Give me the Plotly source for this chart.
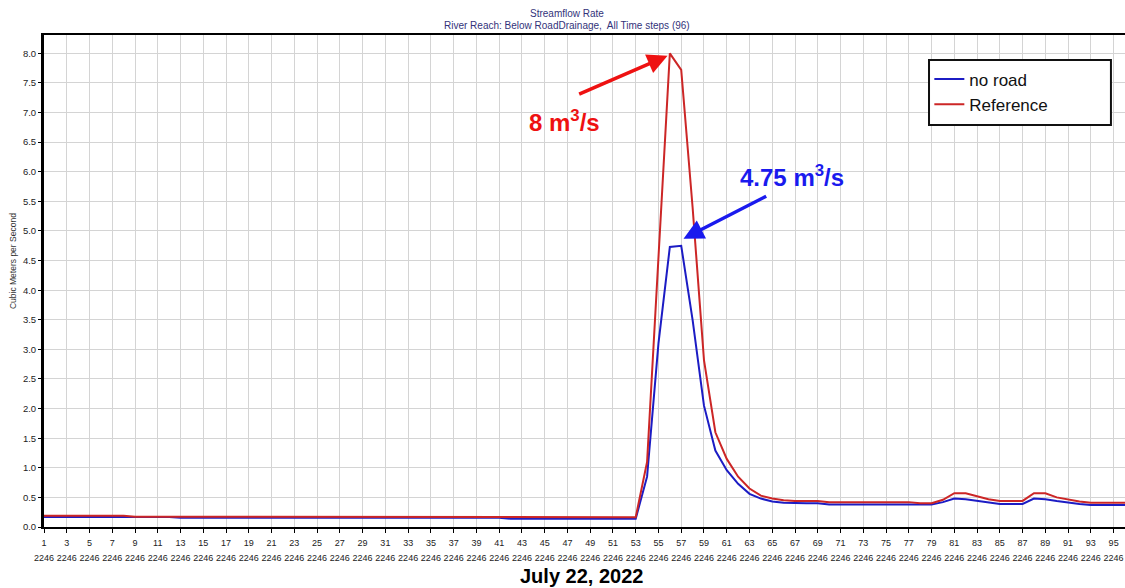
import plotly.graph_objects as go

# Time steps (96 of them) and their secondary tick label
time_steps = list(range(1, 97))
step_code = "2246"

# Streamflow (m³/s) per time step
no_road = (
    [0.17] * 12 + [0.155] * 29 + [0.14] * 12
    + [0.85, 3.1, 4.73, 4.75, 3.5, 2.05, 1.29, 0.96, 0.73, 0.56, 0.48, 0.43, 0.41,
       0.40, 0.40, 0.40]
    + [0.38] * 10
    + [0.42, 0.48, 0.47, 0.44, 0.41, 0.39, 0.39, 0.39, 0.48, 0.47, 0.44, 0.41, 0.39,
       0.37, 0.37, 0.37, 0.37]
)
reference = (
    [0.19] * 8 + [0.175] * 24 + [0.165] * 21
    + [1.1, 4.5, 8.0, 7.72, 5.4, 2.82, 1.6, 1.15, 0.85, 0.65, 0.53, 0.48, 0.45,
       0.44, 0.44, 0.44]
    + [0.42] * 8 + [0.40] * 2
    + [0.46, 0.57, 0.57, 0.52, 0.47, 0.44, 0.44, 0.44, 0.57, 0.57, 0.50, 0.46, 0.43,
       0.41, 0.41, 0.41, 0.41]
)

tick_vals = list(range(1, 97, 2))
SMALL = "<span style='font-size:9px'>{}</span>"
tick_text = [SMALL.format(t) + "<br>" + SMALL.format(step_code) for t in tick_vals]
y_ticks = [i * 0.5 for i in range(17)]

BLUE = "#1c1cc4"
RED = "#cc2626"
SANS = "Liberation Sans, Arial, sans-serif"

fig = go.Figure()
fig.add_trace(go.Scatter(x=time_steps, y=no_road, mode="lines", name="no road",
                         line=dict(color=BLUE, width=2)))
fig.add_trace(go.Scatter(x=time_steps, y=reference, mode="lines", name="Reference",
                         line=dict(color=RED, width=2)))

ref_peak = max(reference)
ref_t = time_steps[reference.index(ref_peak)]
nr_peak = max(no_road)
nr_t = time_steps[no_road.index(nr_peak)]

title_font = dict(size=10, color="#33337a", family=SANS)
annotations = [
    # chart titles
    dict(text="Streamflow Rate", xref="paper", yref="paper", x=0.484, y=1.0,
         yanchor="middle", yshift=22, showarrow=False, font=title_font),
    dict(text="River Reach: Below RoadDrainage,  All Time steps (96)", xref="paper", yref="paper",
         x=0.484, y=1.0, yanchor="middle", yshift=10, showarrow=False, font=title_font),
    # y-axis title
    dict(text="Cubic Meters per Second", xref="paper", yref="paper", x=-0.028, y=0.54,
         xanchor="center", yanchor="middle", textangle=-90, showarrow=False,
         font=dict(size=8.5, color="#333", family=SANS)),
    # date under the axis
    dict(text="<b>July 22, 2022</b>", xref="paper", yref="paper", x=0.497, y=-0.0996,
         yanchor="middle", showarrow=False, font=dict(size=20, color="#000", family=SANS)),
    # peak callouts
    dict(text=f"<b>{ref_peak:g} m<sup>3</sup>/s</b>", x=46.7, y=6.86, showarrow=False,
         font=dict(size=24, color="#ee1111", family=SANS)),
    dict(text="", x=ref_t - 0.2, y=ref_peak - 0.04, ax=47.9, ay=7.30, axref="x", ayref="y",
         showarrow=True, arrowhead=2, arrowsize=1.15, arrowwidth=3.5, arrowcolor="#ee1111"),
    dict(text=f"<b>{nr_peak:g} m<sup>3</sup>/s</b>", x=66.7, y=5.93, showarrow=False,
         font=dict(size=24, color="#1a1aee", family=SANS)),
    dict(text="", x=nr_t + 0.2, y=nr_peak + 0.12, ax=64.6, ay=5.6, axref="x", ayref="y",
         showarrow=True, arrowhead=2, arrowsize=1.15, arrowwidth=3.5, arrowcolor="#1a1aee"),
]

# framed white panel behind the legend entries
legend_frame = dict(type="rect", xref="paper", yref="paper",
                    x0=0.8187, x1=0.987, y0=0.817, y1=0.949,
                    line=dict(color="#111", width=2), fillcolor="white", layer="above")

fig.update_layout(
    width=1125, height=588,
    margin=dict(l=44, r=0, t=35, b=61),
    paper_bgcolor="white", plot_bgcolor="white",
    showlegend=True,
    legend=dict(x=0.819, y=0.946, xanchor="left", yanchor="top",
                bgcolor="rgba(0,0,0,0)", borderwidth=0,
                font=dict(size=17, color="#111", family=SANS),
                tracegroupgap=0, itemwidth=30),
    shapes=[legend_frame],
    annotations=annotations,
    xaxis=dict(range=[1, 96], tickmode="array", tickvals=tick_vals, ticktext=tick_text,
               showgrid=True, gridcolor="#d4d4d4", gridwidth=1,
               showline=True, linecolor="#000", linewidth=2, mirror=True,
               ticks="outside", ticklen=4, tickcolor="#000", zeroline=False,
               tickfont=dict(size=11, color="#222", family=SANS), tickangle=0),
    yaxis=dict(range=[0, 8.31], tickmode="array", tickvals=y_ticks,
               ticktext=[f"{v:.1f}" for v in y_ticks],
               showgrid=True, gridcolor="#d4d4d4", gridwidth=1,
               showline=True, linecolor="#000", linewidth=3,
               ticks="outside", ticklen=3, tickcolor="#000", zeroline=False,
               tickfont=dict(size=9.5, color="#222", family=SANS)),
)

fig.write_html("out.html")
